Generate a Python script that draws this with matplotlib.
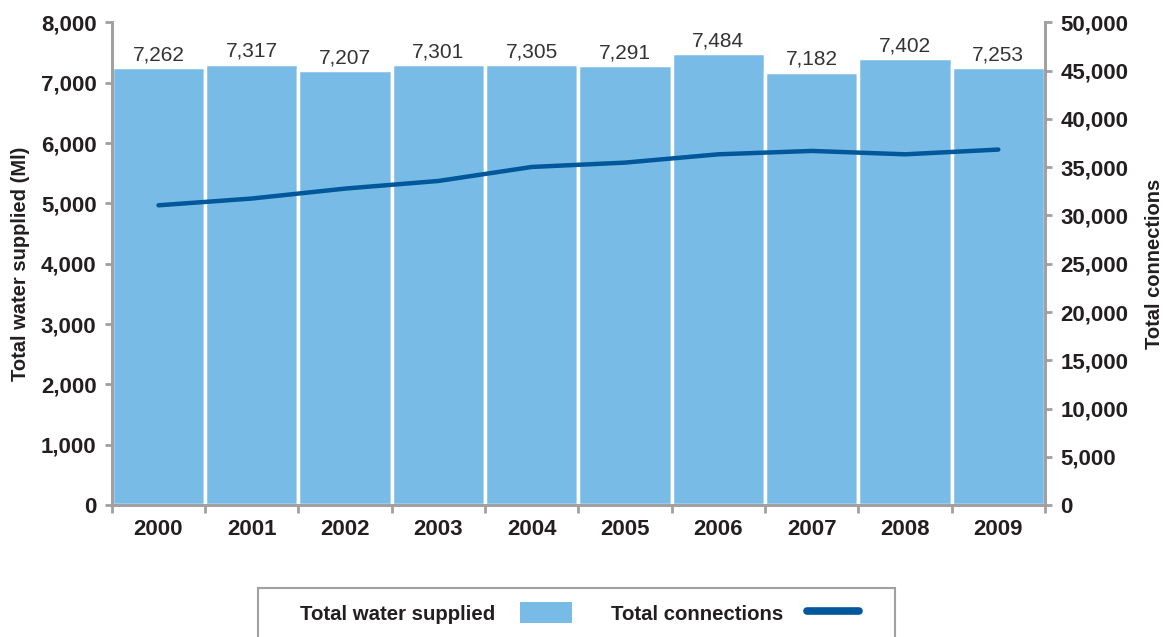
import numpy as np
import matplotlib.pyplot as plt
from matplotlib.lines import Line2D
from matplotlib.patches import Patch, Rectangle

# Values
years = ['2000', '2001', '2002', '2003', '2004', '2005', '2006', '2007', '2008', '2009']
water_supplied = [7262, 7317, 7207, 7301, 7305, 7291, 7484, 7182, 7402, 7253]
connections = [31050, 31750, 32780, 33570, 35020, 35470, 36330, 36680, 36330, 36820]

bar_color = '#78BBE6'
line_color = '#00579A'
axis_grey = '#A0A0A0'
text_dark = '#231F20'


def main():
    plt.rcParams['font.family'] = ['Liberation Sans', 'DejaVu Sans']
    fig = plt.figure(figsize=(11.65, 6.37), dpi=100)
    ax = fig.add_axes([0.096, 0.207, 0.801, 0.758])
    ax2 = ax.twinx()

    x = np.arange(len(years))
    bars = ax.bar(x, water_supplied, width=1.0, color=bar_color,
                  edgecolor='white', linewidth=2.5, zorder=2)
    for b, v in zip(bars, water_supplied):
        ax.annotate(f'{v:,}', (b.get_x() + b.get_width() / 2, v),
                    xytext=(0, 2), textcoords='offset points',
                    ha='center', va='bottom', fontsize=15, color='#333333')

    ax2.plot(x, connections, color=line_color, linewidth=3.2,
             solid_capstyle='round', solid_joinstyle='round', zorder=3)

    ax.set_xlim(-0.5, len(years) - 0.5)
    ax.set_ylim(0, 8000)
    ax2.set_ylim(0, 50000)
    ax.set_yticks(np.arange(0, 8001, 1000))
    ax2.set_yticks(np.arange(0, 50001, 5000))
    ax.set_yticklabels([f'{t:,}' for t in range(0, 8001, 1000)])
    ax2.set_yticklabels([f'{t:,}' for t in range(0, 50001, 5000)])

    # year labels centred, tick marks on the bar boundaries
    ax.set_xticks(x)
    ax.set_xticklabels(years)
    ax.set_xticks(np.arange(-0.5, len(years)), minor=True)
    ax.tick_params(axis='x', which='major', length=0, pad=10)
    ax.tick_params(axis='x', which='minor', length=6, width=2, color=axis_grey)

    for a in (ax, ax2):
        a.set_zorder(1)
        a.spines['top'].set_visible(False)
        for side in ('left', 'right', 'bottom'):
            a.spines[side].set_color(axis_grey)
            a.spines[side].set_linewidth(2)
        for lab in a.get_xticklabels() + a.get_yticklabels():
            lab.set_fontweight('bold')
            lab.set_fontsize(16)
            lab.set_color(text_dark)
    ax2.set_zorder(3)
    ax2.patch.set_visible(False)
    ax.tick_params(axis='y', length=5, width=2, color=axis_grey, pad=6)
    ax2.tick_params(axis='y', length=5, width=2, color=axis_grey, pad=6)

    ax.set_ylabel('Total water supplied (Ml)', fontsize=14.5, fontweight='bold',
                  color=text_dark, labelpad=8)
    ax2.set_ylabel('Total connections', fontsize=14.5, fontweight='bold',
                   color=text_dark, labelpad=12)

    # legend box is drawn by hand so it can run off the bottom like the original
    fig.patches.append(Rectangle((258 / 1165, -0.05), 637 / 1165, 0.05 + 49 / 637,
                                 transform=fig.transFigure, fill=False,
                                 edgecolor=axis_grey, linewidth=1.5))
    handles = [Patch(facecolor=bar_color, edgecolor='none'),
               Line2D([0], [0], color=line_color, linewidth=5.5,
                      solid_capstyle='round')]
    leg = fig.legend(handles, ['Total water supplied', 'Total connections'],
                     loc='center left', bbox_to_anchor=(0.2575, 0.0377),
                     borderaxespad=0, borderpad=0, ncol=2, markerfirst=False,
                     frameon=False, columnspacing=1.9, handlelength=2.55,
                     handleheight=1.2, handletextpad=1.2,
                     prop={'weight': 'bold', 'size': 14.7})
    for t in leg.get_texts():
        t.set_color(text_dark)

    fig.savefig('out.png', dpi=100)


if __name__ == '__main__':
    main()
